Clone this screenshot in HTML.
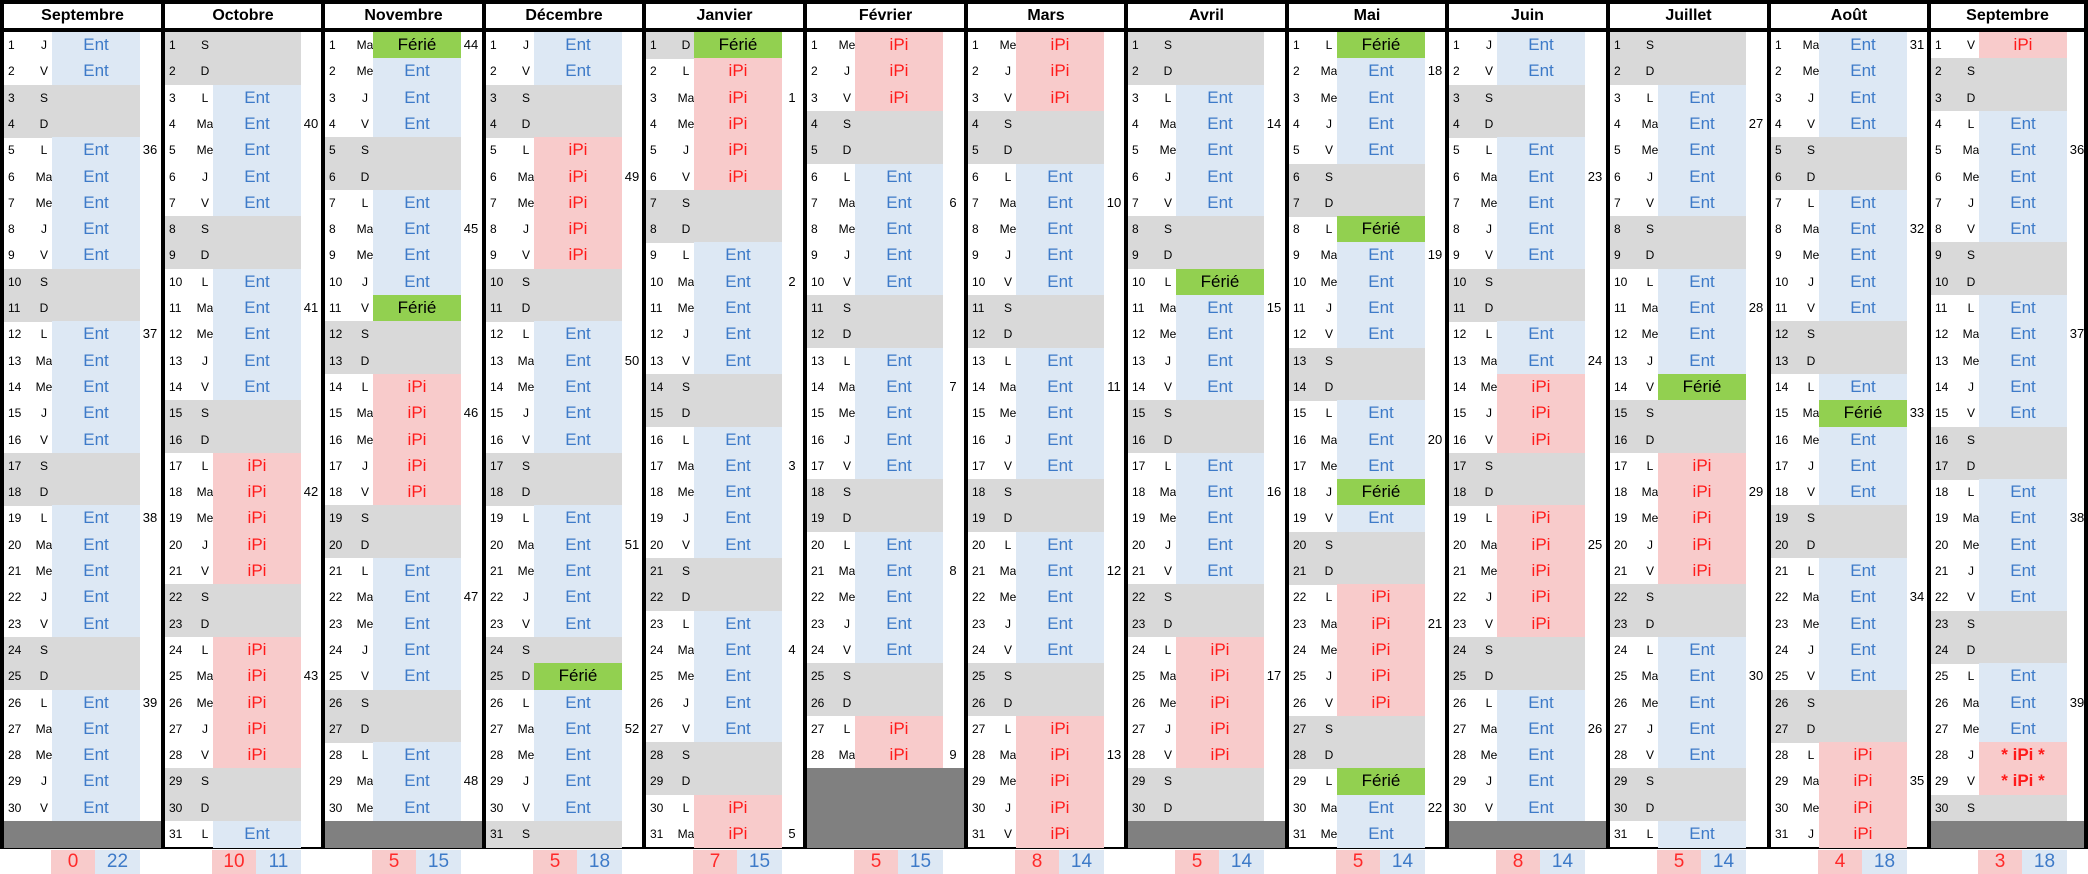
<!DOCTYPE html>
<html><head><meta charset="utf-8">
<style>
body{margin:0;width:2088px;height:874px;background:#fff;position:relative;overflow:hidden;font-family:"Liberation Sans",sans-serif;}
#frame{position:absolute;left:0;top:0;width:2088px;height:849px;background:#000;}
.a{position:absolute;box-sizing:border-box;}
.hd{background:#fff;font-weight:bold;font-size:16px;text-align:center;line-height:24px;}
.col{background:#fff;}
.num{font-size:12px;line-height:26px;color:#000;}
.lab{font-size:12px;line-height:26px;text-align:center;width:30px;color:#000;}
.cell{font-size:17px;text-align:center;line-height:26px;}
.wk{font-size:13px;line-height:26px;text-align:center;width:18px;}
.sum{font-size:19px;text-align:center;line-height:24px;}
</style></head><body>
<div id="frame"></div>
<script>
const months=["Septembre","Octobre","Novembre","Décembre","Janvier","Février","Mars","Avril","Mai","Juin","Juillet","Août","Septembre"];
const years=[2022,2022,2022,2022,2023,2023,2023,2023,2023,2023,2023,2023,2023];
const monthIdx=[8,9,10,11,0,1,2,3,4,5,6,7,8];
const codes=[
"EEWWEEEEEWWEEEEEWWEEEEEWWEEEEE",
"WWEEEEEWWEEEEEWWIIIIIWWIIIIIWWE",
"FEEEWWEEEEFWWIIIIIWWEEEEEWWEEE",
"EEWWIIIIIWWEEEEEWWEEEEEWFEEEEEW",
"FIIIIIWWEEEEEWWEEEEEWWEEEEEWWII",
"IIIWWEEEEEWWEEEEEWWEEEEEWWII",
"IIIWWEEEEEWWEEEEEWWEEEEEWWIIIII",
"WWEEEEEWWFEEEEWWEEEEEWWIIIIIWW",
"FEEEEWWFEEEEWWEEEFEWWIIIIIWWFEE",
"EEWWEEEEEWWEEIIIWWIIIIIWWEEEEE",
"WWEEEEEWWEEEEFWWIIIIIWWEEEEEWWE",
"EEEEWWEEEEEWWEFEEEWWEEEEEWWIIII",
"IWWEEEEEWWEEEEEWWEEEEEWWEEEXXW"];
const weekNums=[[36,37,38,39],[40,41,42,43],[44,45,46,47,48],[49,50,51,52],[1,2,3,4,5],[6,7,8,9],[10,11,12,13],[14,15,16,17],[18,19,20,21,22],[23,24,25,26],[27,28,29,30],[31,32,33,34,35],[36,37,38,39]];
const weekRows=[[5,12,19,26],[4,11,18,25],[1,8,15,22,29],[6,13,20,27],[3,10,17,24,31],[7,14,21,28],[7,14,21,28],[4,11,18,25],[2,9,16,23,30],[6,13,20,27],[4,11,18,25],[1,8,15,22,29],[5,12,19,26]];
const countIPi=[0,10,5,5,7,5,8,5,5,8,5,4,3];
const countEnt=[22,11,15,18,15,15,14,14,14,14,14,18,18];
const dayLab=["D","L","Ma","Me","J","V","S"];
const RH=26.3, Y0=32;
function mk(cls,x,y,w,h,css,txt){const d=document.createElement('div');d.className='a '+cls;d.style.left=x+'px';d.style.top=y+'px';d.style.width=w+'px';d.style.height=h+'px';if(css)d.style.cssText+=css;if(txt!==undefined)d.textContent=txt;document.body.appendChild(d);return d;}
months.forEach((m,i)=>{
  const L=Math.round(i*160.6)+4, W=(i==12?2084:Math.round((i+1)*160.6))-L;
  const h=mk('hd',L,4,W,24,'',m);
  
  
  const c=mk('col',L,Y0,W,815);
  
  
  const nd=codes[i].length;
  for(let d=1;d<=31;d++){
    const y=Y0+(d-1)*RH;
    if(d>nd){const g=mk('',L,y,W,RH+0.5,'background:#808080');
      
      continue;}
    const wd=new Date(years[i],monthIdx[i],d).getDay();
    const code=codes[i][d-1];
    const we=(wd==0||wd==6);
    if(we){const g=mk('',L,y,136,RH+0.5,'background:#d9d9d9');
      
      }
    const n=mk('num',L+4,y,24,RH,'',String(d));
    
    
    const lb=mk('lab',L+25,y,30,RH,'',dayLab[wd]);
    
    
    let bg=null,col='',txt='',fw='normal';
    if(code=='E'){bg='#dde8f4';col='#3d7ac8';txt='Ent';}
    else if(code=='I'){bg='#f8cbcb';col='#ff1a1a';txt='iPi';}
    else if(code=='X'){bg='#f8cbcb';col='#ff1a1a';txt='* iPi *';fw='bold';}
    else if(code=='F'){bg='#92d050';col='#000';txt='Férié';}
    if(bg){const ce=mk('cell',L+48,y,88,RH+0.5,'background:'+bg+';color:'+col+';font-weight:'+fw,txt);
      
      }
  }
  weekNums[i].forEach((w,k)=>{
    const y=Y0+(weekRows[i][k]-1)*RH;
    const e=mk('wk',L+137,y,18,RH,'',String(w));
    
    
  });
  const p=mk('sum',L+47,850,44,24,'background:#f8cbcb;color:#ff2a2a',String(countIPi[i]));
  
  
  const b=mk('sum',L+91,850,45,24,'background:#dde8f4;color:#3d7ac8',String(countEnt[i]));
  
  
});
</script>
</body></html>
